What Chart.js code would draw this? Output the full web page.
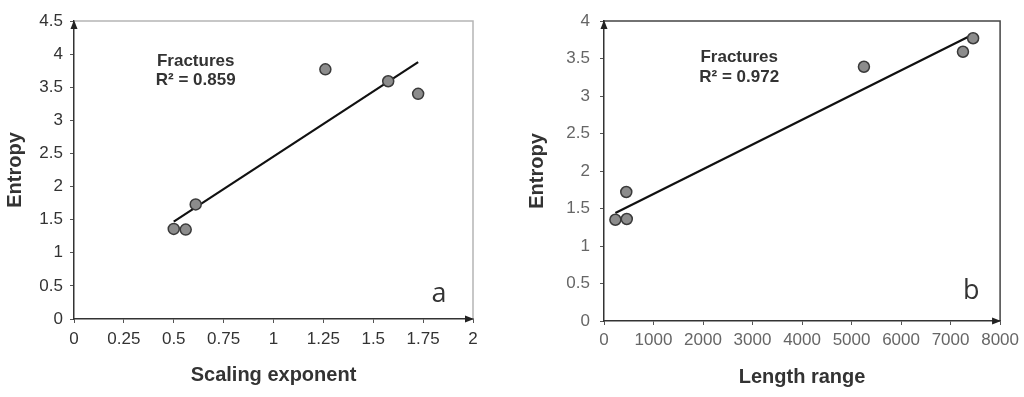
<!DOCTYPE html>
<html lang="en">
<head>
<meta charset="UTF-8">
<title>Entropy vs scaling exponent and length range</title>
<script src="https://cdn.jsdelivr.net/npm/chart.js"></script>
<style>
  html, body { margin: 0; padding: 0; background: #fff; }
  #wrap { position: relative; width: 1024px; height: 397px; }
  .box { position: absolute; top: 0; width: 512px; height: 397px; }
</style>
</head>
<body>
<div id="wrap">
  <div class="box" style="left:0"><canvas id="chartA"></canvas></div>
  <div class="box" style="left:512px"><canvas id="chartB"></canvas></div>
</div>
<script>
  // panel a: entropy vs scaling exponent
  var scalingExponent = [0.50, 0.56, 0.61, 1.26, 1.575, 1.725];
  var entropyA = [1.36, 1.35, 1.73, 3.77, 3.59, 3.40];
  var fitLineA = [[0.50, 1.47], [1.725, 3.88]];
  var xTicksA = [0, 0.25, 0.5, 0.75, 1, 1.25, 1.5, 1.75, 2];
  var yTicksA = [0, 0.5, 1, 1.5, 2, 2.5, 3, 3.5, 4, 4.5];

  // panel b: entropy vs length range
  var lengthRange = [230, 460, 450, 5250, 7250, 7455];
  var entropyB = [1.35, 1.36, 1.72, 3.39, 3.59, 3.77];
  var fitLineB = [[230, 1.44], [7420, 3.81]];
  var xTicksB = [0, 1000, 2000, 3000, 4000, 5000, 6000, 7000, 8000];
  var yTicksB = [0, 0.5, 1, 1.5, 2, 2.5, 3, 3.5, 4];

  function toPoints(xs, ys) {
    return xs.map(function (x, i) { return { x: x, y: ys[i] }; });
  }

  function fixedTicks(list) {
    return function (axis) {
      axis.ticks = list.map(function (v) { return { value: v }; });
    };
  }

  // top/right frame, axis arrows and the text notes
  var decorPlugin = {
    id: 'decor',
    afterDraw: function (chart, args, opts) {
      var ctx = chart.ctx;
      var a = chart.chartArea;
      var xs = chart.scales.x, ys = chart.scales.y;
      ctx.save();
      ctx.strokeStyle = opts.frameColor;
      ctx.lineWidth = 1.5;
      ctx.beginPath();
      ctx.moveTo(a.left, a.top);
      ctx.lineTo(a.right, a.top);
      ctx.lineTo(a.right, a.bottom);
      ctx.stroke();

      ctx.fillStyle = '#222';
      ctx.beginPath();
      ctx.moveTo(a.left, a.top - 1);
      ctx.lineTo(a.left - 3.5, a.top + 8);
      ctx.lineTo(a.left + 3.5, a.top + 8);
      ctx.closePath();
      ctx.fill();
      ctx.beginPath();
      ctx.moveTo(a.right + 1, a.bottom);
      ctx.lineTo(a.right - 8, a.bottom - 3.5);
      ctx.lineTo(a.right - 8, a.bottom + 3.5);
      ctx.closePath();
      ctx.fill();

      ctx.textAlign = 'center';
      ctx.textBaseline = 'middle';
      opts.notes.forEach(function (n) {
        ctx.font = n.font;
        ctx.fillStyle = n.color;
        ctx.fillText(n.text, xs.getPixelForValue(n.x), ys.getPixelForValue(n.y));
      });
      ctx.restore();
    }
  };

  function makeChart(id, cfg) {
    var tickFont = { family: 'Liberation Sans, Arial, sans-serif', size: 17 };
    var titleFont = { family: 'Liberation Sans, Arial, sans-serif', size: 20, weight: 'bold' };
    return new Chart(document.getElementById(id), {
      type: 'scatter',
      data: {
        datasets: [{
          label: 'Fractures',
          data: cfg.points,
          pointRadius: 5.5,
          pointHoverRadius: 5.5,
          backgroundColor: '#8c8c8c',
          borderColor: '#3a3a3a',
          borderWidth: 1.5
        }, {
          label: 'Fit',
          data: cfg.fit,
          showLine: true,
          pointRadius: 0,
          borderColor: '#111',
          borderWidth: 2.2,
          fill: false
        }]
      },
      options: {
        responsive: true,
        maintainAspectRatio: false,
        animation: false,
        layout: { padding: cfg.padding },
        plugins: {
          legend: { display: false },
          tooltip: { enabled: false },
          decor: { frameColor: cfg.frameColor, notes: cfg.notes }
        },
        scales: {
          x: {
            type: 'linear',
            min: cfg.xMin,
            max: cfg.xMax,
            afterBuildTicks: fixedTicks(cfg.xTicks),
            afterFit: function (s) { s.height = cfg.xHeight; },
            border: { color: '#333', width: 1.5 },
            grid: { drawOnChartArea: false, drawTicks: true, tickLength: 4, tickColor: '#555' },
            ticks: {
              color: cfg.tickColor,
              font: tickFont,
              padding: cfg.xTickPad,
              maxRotation: 0,
              autoSkip: false,
              callback: function (v) { return String(v); }
            },
            title: {
              display: true,
              text: cfg.xTitle,
              color: '#333',
              font: titleFont,
              padding: { top: 0, bottom: cfg.xTitlePad }
            }
          },
          y: {
            type: 'linear',
            min: cfg.yMin,
            max: cfg.yMax,
            afterBuildTicks: fixedTicks(cfg.yTicks),
            afterFit: function (s) { s.width = cfg.yWidth; },
            border: { color: '#333', width: 1.5 },
            grid: { drawOnChartArea: false, drawTicks: true, tickLength: 4, tickColor: '#555' },
            ticks: {
              color: cfg.tickColor,
              font: tickFont,
              padding: cfg.yTickPad,
              autoSkip: false,
              callback: function (v) { return String(v); }
            },
            title: {
              display: true,
              text: 'Entropy',
              color: '#333',
              font: titleFont,
              padding: { top: cfg.yTitlePad, bottom: 0 }
            }
          }
        }
      },
      plugins: [decorPlugin]
    });
  }

  var noteFont = 'bold 17px "Liberation Sans", Arial, sans-serif';
  var letterFont = '27px "Open Sans", sans-serif';

  makeChart('chartA', {
    points: toPoints(scalingExponent, entropyA),
    fit: fitLineA.map(function (p) { return { x: p[0], y: p[1] }; }),
    xMin: 0, xMax: 2, yMin: 0, yMax: 4.5,
    xTicks: xTicksA, yTicks: yTicksA,
    xTitle: 'Scaling exponent',
    padding: { left: 0, top: 21, right: 39, bottom: 0 },
    xHeight: 78, yWidth: 74,
    xTickPad: 6, yTickPad: 7,
    xTitlePad: 10, yTitlePad: 3,
    tickColor: '#333',
    frameColor: '#b5b5b5',
    notes: [
      { text: 'Fractures', x: 0.61, y: 3.89, font: noteFont, color: '#333' },
      { text: 'R\u00b2 = 0.859', x: 0.61, y: 3.60, font: noteFont, color: '#333' },
      { text: 'a', x: 1.83, y: 0.37, font: letterFont, color: '#333' }
    ]
  });

  makeChart('chartB', {
    points: toPoints(lengthRange, entropyB),
    fit: fitLineB.map(function (p) { return { x: p[0], y: p[1] }; }),
    xMin: 0, xMax: 8000, yMin: 0, yMax: 4,
    xTicks: xTicksB, yTicks: yTicksB,
    xTitle: 'Length range',
    padding: { left: 0, top: 21, right: 22, bottom: 0 },
    xHeight: 76, yWidth: 92,
    xTickPad: 5, yTickPad: 10,
    xTitlePad: 8, yTitlePad: 13,
    tickColor: '#666',
    frameColor: '#444',
    notes: [
      { text: 'Fractures', x: 2730, y: 3.52, font: noteFont, color: '#333' },
      { text: 'R\u00b2 = 0.972', x: 2730, y: 3.25, font: noteFont, color: '#333' },
      { text: 'b', x: 7416, y: 0.39, font: letterFont, color: '#333' }
    ]
  });
</script>
</body>
</html>
